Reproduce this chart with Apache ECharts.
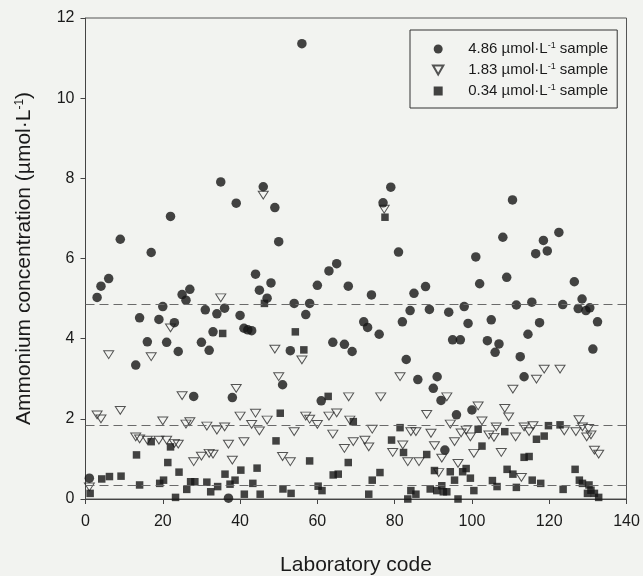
<!DOCTYPE html>
<html><head><meta charset="utf-8">
<script src="https://cdn.jsdelivr.net/npm/echarts@6/dist/echarts.min.js"></script>
<style>html,body{margin:0;padding:0;background:#f2f3f0}#c{width:643px;height:576px}</style>
</head><body><div id="c"></div>
<script>
// [laboratory code, ammonium concentration]
const sample486 = [[1,0.52],[3,5.03],[4,5.31],[6,5.5],[9,6.48],[13,3.34],[14,4.52],[16,3.92],[17,6.15],[19,4.48],[20,4.8],[21,3.91],[22,7.05],[23,4.4],[24,3.68],[25,5.1],[26,4.96],[27,5.23],[28,2.56],[30,3.91],[31,4.72],[32,3.71],[33,4.17],[34,4.62],[35,7.91],[36,4.76],[37,0.02],[38,2.53],[39,7.38],[40,4.58],[41,4.26],[42,4.22],[43,4.2],[44,5.61],[45,5.21],[46,7.79],[47,5.01],[48,5.39],[49,7.27],[50,6.42],[51,2.85],[53,3.7],[54,4.88],[56,11.36],[57,4.6],[58,4.88],[60,5.33],[61,2.45],[63,5.69],[64,3.91],[65,5.87],[67,3.86],[68,5.31],[69,3.68],[72,4.42],[73,4.28],[74,5.09],[76,4.11],[77,7.39],[79,7.78],[81,6.16],[82,4.42],[83,3.48],[84,4.7],[85,5.13],[86,2.98],[88,5.3],[89,4.73],[90,2.76],[91,3.05],[92,2.46],[93,1.22],[94,4.66],[95,3.97],[96,2.1],[97,3.97],[98,4.8],[99,4.38],[100,2.22],[101,6.04],[102,5.37],[104,3.95],[105,4.47],[106,3.66],[107,3.87],[108,6.53],[109,5.53],[110.5,7.46],[111.5,4.84],[112.5,3.55],[113.5,3.05],[114.5,4.11],[115.5,4.91],[116.5,6.12],[117.5,4.4],[118.5,6.45],[119.5,6.19],[122.5,6.65],[123.5,4.85],[126.5,5.42],[127.5,4.75],[128.5,4.99],[129.5,4.7],[130.5,4.77],[131.3,3.74],[132.5,4.42]];
const sample183 = [[1,0.3],[3,2.1],[4,2.0],[6,3.6],[9,2.21],[13,1.55],[14,1.5],[16,1.47],[17,3.55],[19,1.47],[20,1.95],[21,1.47],[22,4.27],[23,1.39],[24,1.37],[25,2.58],[26,1.87],[27,1.93],[28,0.93],[30,1.07],[31.4,1.82],[32,1.14],[33,1.12],[34,1.72],[35,5.02],[36,1.8],[37,1.37],[38,0.97],[39,2.76],[40,2.07],[41,1.43],[43,1.86],[44,2.14],[45,1.7],[46,7.58],[47,1.97],[49,3.74],[50,3.05],[51,1.06],[53,0.93],[54,1.68],[56,3.47],[57,2.07],[58,1.99],[60,1.86],[63,2.07],[64,1.62],[65,2.15],[67,1.26],[68.1,2.55],[68.4,1.97],[69.3,1.43],[72.3,1.47],[73.3,1.3],[74.2,1.74],[76.4,2.55],[77.3,7.23],[79.5,1.16],[81.4,3.05],[82.1,1.35],[83.4,0.93],[84.2,1.68],[85.5,1.68],[86.3,0.93],[88.3,2.11],[89.4,1.64],[90.3,1.33],[91.4,0.66],[92.2,1.02],[93.5,2.55],[94.4,1.87],[95.5,1.43],[96.4,0.89],[97.2,1.65],[98.5,1.72],[99.6,1.55],[100.5,1.14],[101.6,2.32],[102.6,1.95],[104.4,1.6],[105.7,1.54],[106.3,1.8],[107.6,1.16],[108.5,2.26],[109.5,2.05],[110.6,2.74],[111.3,1.55],[112.8,0.54],[113.5,1.8],[114.8,1.68],[115.8,1.83],[116.7,2.99],[118.7,3.24],[122.8,3.24],[123.9,1.7],[126.9,1.68],[127.7,1.98],[128.6,1.8],[129.7,1.55],[130.2,1.76],[130.8,1.6],[131.7,1.22],[132.8,1.12]];
const sample034 = [[1.2,0.14],[4.2,0.5],[6.2,0.56],[9.2,0.57],[13.2,1.1],[14,0.35],[17,1.43],[19.2,0.39],[20.2,0.47],[21.3,0.91],[22,1.3],[23.3,0.04],[24.2,0.67],[26.2,0.24],[27.2,0.43],[28.3,0.43],[31.4,0.42],[32.4,0.18],[34.2,0.31],[35.5,4.13],[36.1,0.62],[37.4,0.37],[38.7,0.47],[40.2,0.72],[41.1,0.12],[43.3,0.39],[44.4,0.77],[45.2,0.12],[46.3,4.88],[49.3,1.45],[50.4,2.14],[51.1,0.25],[53.2,0.14],[54.3,4.17],[56.5,3.72],[58,0.95],[60.2,0.32],[61.2,0.21],[62.8,2.56],[64.1,0.6],[65.4,0.62],[68,0.91],[69.3,1.93],[73.3,0.12],[74.2,0.47],[76.2,0.66],[77.5,7.03],[79.2,1.47],[81.4,1.78],[82.3,1.16],[83.4,0.0],[84.2,0.21],[85.5,0.12],[88.3,1.11],[89.2,0.25],[90.3,0.71],[90.9,0.21],[92.2,0.33],[92.6,0.18],[93.5,0.18],[94.4,0.68],[95.5,0.47],[96.4,0.0],[97.6,0.68],[98.5,0.76],[99.6,0.52],[100.5,0.21],[101.6,1.74],[102.6,1.32],[105.3,0.46],[106.5,0.31],[108.5,1.68],[109.1,0.74],[110.6,0.62],[111.5,0.29],[113.5,1.04],[114.8,1.06],[115.6,0.47],[116.7,1.49],[117.8,0.39],[118.7,1.57],[119.8,1.83],[122.8,1.85],[123.6,0.24],[126.7,0.74],[127.8,0.47],[128.6,0.39],[129.9,0.14],[130.3,0.35],[130.8,0.22],[131.7,0.14],[132.8,0.04]];
const referenceValues = [4.86, 1.83, 0.34];
const seriesNames = ['4.86', '1.83', '0.34'];

const FONT = "'Liberation Sans', Arial, sans-serif";
const chart = echarts.init(document.getElementById('c'), null, {renderer: 'canvas'});
const tri = 'path://M0,0L10,0L5,8.7Z';
const sq = 'path://M0,0L10,0L10,10L0,10Z';
chart.setOption({
  animation: false,
  backgroundColor: '#f2f3f0',
  textStyle: {fontFamily: FONT},
  grid: {left: 85.5, right: 16.5, top: 18, bottom: 77, show: true, borderColor: '#555', borderWidth: 1,
         backgroundColor: 'transparent', containLabel: false, outerBoundsMode: 'none'},
  legend: {
    orient: 'vertical', left: 410, top: 30,
    padding: [11, 9, 9, 22], itemWidth: 50, itemHeight: 9, itemGap: 5,
    borderColor: '#333', borderWidth: 1,
    data: [
      {name: seriesNames[0], icon: 'circle'},
      {name: seriesNames[1], icon: tri},
      {name: seriesNames[2], icon: sq, itemHeight: 8}
    ],
    formatter: n => '{a|' + n + ' \u00b5mol\u00b7L}{s|-1}{a| sample}',
    textStyle: {color: '#1a1a1a', fontFamily: FONT, fontSize: 15, lineHeight: 16,
      rich: {a: {fontSize: 15, fontFamily: FONT, color: '#1a1a1a', lineHeight: 16},
             s: {fontSize: 9, fontFamily: FONT, color: '#1a1a1a', verticalAlign: 'top', lineHeight: 16}}}
  },
  xAxis: {
    type: 'value', min: 0, max: 140, interval: 20,
    name: 'Laboratory code', nameLocation: 'middle', nameGap: 56,
    nameTextStyle: {fontSize: 21, color: '#1a1a1a', fontFamily: FONT},
    axisLine: {lineStyle: {color: '#444', width: 1}},
    axisTick: {show: true, inside: false, length: 5, lineStyle: {color: '#444'}},
    axisLabel: {fontSize: 16, color: '#1a1a1a', margin: 15, fontFamily: FONT},
    splitLine: {show: false}
  },
  yAxis: {
    type: 'value', min: 0, max: 12, interval: 2,
    name: '{a|Ammonium concentration (\u00b5mol\u00b7L}{s|-1}{a|)}', nameLocation: 'middle', nameGap: 50, nameRotate: 90,
    nameTextStyle: {fontSize: 21, color: '#1a1a1a', fontFamily: FONT,
      rich: {a: {fontSize: 21, fontFamily: FONT, color: '#1a1a1a', lineHeight: 22},
             s: {fontSize: 12, fontFamily: FONT, color: '#1a1a1a', verticalAlign: 'top', lineHeight: 22}}},
    axisLine: {show: true, lineStyle: {color: '#444', width: 1}},
    axisTick: {show: true, inside: false, length: 5, lineStyle: {color: '#444'}},
    axisLabel: {fontSize: 16, color: '#1a1a1a', margin: 11, fontFamily: FONT},
    splitLine: {show: false}
  },
  series: [
    {name: seriesNames[0], type: 'scatter', data: sample486, symbol: 'circle', symbolSize: 9.5,
     itemStyle: {color: '#151515'}, z: 4,
     markLine: {silent: true, symbol: 'none', label: {show: false},
       lineStyle: {color: '#6a6a6a', type: [9, 5], width: 1},
       data: referenceValues.map(v => ({yAxis: v}))}},
    {name: seriesNames[1], type: 'scatter', data: sample183, symbol: tri, symbolSize: [10, 9], symbolKeepAspect: true,
     itemStyle: {color: 'rgba(0,0,0,0)', borderColor: '#2a2a2a', borderWidth: 1}, z: 3},
    {name: seriesNames[2], type: 'scatter', data: sample034, symbol: sq, symbolSize: 7.5,
     itemStyle: {color: '#151515'}, z: 3}
  ]
});
</script></body></html>
